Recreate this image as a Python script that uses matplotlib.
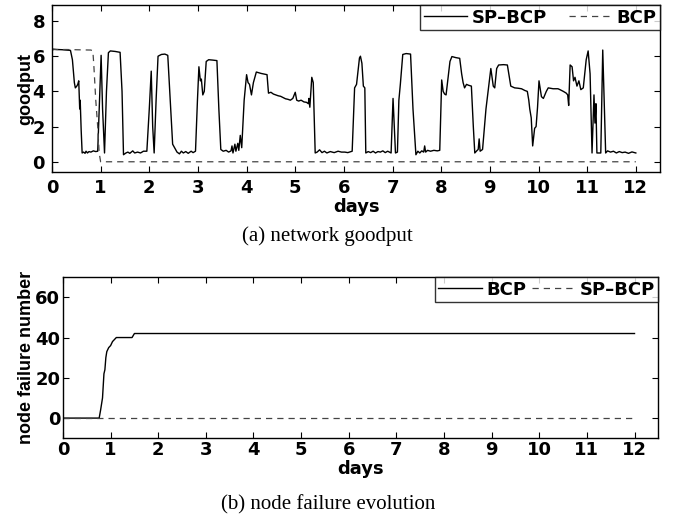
import matplotlib.pyplot as plt

plt.rcParams['font.family'] = 'DejaVu Sans'
plt.rcParams['font.weight'] = 'bold'

# %% DATA
# goodput, SP-BCP (solid)
sp_days = [0.00, 0.02, 0.10, 0.20, 0.30, 0.38, 0.42, 0.46, 0.48, 0.51, 0.53, 0.55, 0.56, 0.57, 0.58, 0.60,
           0.62, 0.65, 0.68, 0.70, 0.73, 0.76, 0.80, 0.85, 0.90, 0.94, 0.97, 1.01, 1.04, 1.08, 1.12, 1.16,
           1.20, 1.30, 1.40, 1.44, 1.47, 1.52, 1.56, 1.60, 1.66, 1.70, 1.76, 1.82, 1.88, 1.95, 2.00, 2.04,
           2.07, 2.10, 2.14, 2.18, 2.25, 2.32, 2.38, 2.43, 2.48, 2.52, 2.57, 2.62, 2.66, 2.70, 2.75, 2.80,
           2.86, 2.90, 2.95, 2.99, 3.02, 3.05, 3.07, 3.10, 3.13, 3.17, 3.22, 3.30, 3.39, 3.43, 3.47, 3.52,
           3.58, 3.63, 3.68, 3.70, 3.72, 3.76, 3.78, 3.82, 3.84, 3.87, 3.90, 3.95, 4.00, 4.03, 4.06, 4.10,
           4.14, 4.20, 4.30, 4.42, 4.45, 4.50, 4.55, 4.60, 4.65, 4.70, 4.75, 4.80, 4.85, 4.90, 4.95, 5.00,
           5.03, 5.07, 5.12, 5.18, 5.23, 5.27, 5.28, 5.30, 5.34, 5.37, 5.41, 5.45, 5.50, 5.55, 5.60, 5.65,
           5.72, 5.80, 5.88, 5.95, 6.02, 6.08, 6.15, 6.17, 6.22, 6.26, 6.32, 6.34, 6.37, 6.40, 6.43, 6.45,
           6.50, 6.55, 6.60, 6.65, 6.70, 6.75, 6.80, 6.85, 6.90, 6.97, 7.01, 7.06, 7.10, 7.13, 7.16, 7.21,
           7.28, 7.37, 7.42, 7.48, 7.52, 7.56, 7.60, 7.64, 7.66, 7.68, 7.72, 7.78, 7.85, 7.92, 7.97, 8.01,
           8.04, 8.07, 8.10, 8.18, 8.22, 8.30, 8.38, 8.42, 8.45, 8.48, 8.52, 8.56, 8.62, 8.66, 8.69, 8.74,
           8.76, 8.78, 8.80, 8.85, 8.92, 9.02, 9.07, 9.10, 9.14, 9.18, 9.28, 9.36, 9.43, 9.51, 9.58, 9.65,
           9.72, 9.77, 9.80, 9.82, 9.85, 9.88, 9.92, 9.95, 9.98, 10.01, 10.06, 10.10, 10.16, 10.20, 10.30,
           10.40, 10.44, 10.51, 10.57, 10.60, 10.62, 10.65, 10.69, 10.72, 10.75, 10.79, 10.83, 10.87, 10.92,
           10.98, 11.02, 11.06, 11.10, 11.14, 11.16, 11.18, 11.20, 11.28, 11.32, 11.38, 11.42, 11.48, 11.54,
           11.60, 11.66, 11.72, 11.78, 11.85, 11.92, 12.00]
sp_goodput = [6.25, 6.40, 6.38, 6.37, 6.35, 6.33, 5.80, 4.50, 4.20, 4.30, 4.40, 4.60, 3.80, 3.00, 3.50, 1.80,
              0.50, 0.55, 0.48, 0.60, 0.50, 0.58, 0.55, 0.62, 0.58, 0.60, 3.00, 6.05, 3.00, 0.50, 4.00, 6.20,
              6.30, 6.27, 6.22, 4.00, 0.40, 0.50, 0.55, 0.48, 0.62, 0.50, 0.55, 0.50, 0.60, 0.60, 3.00, 5.15,
              2.00, 0.50, 3.50, 6.00, 6.10, 6.12, 6.05, 3.50, 1.00, 0.80, 0.55, 0.45, 0.60, 0.50, 0.58, 0.48,
              0.60, 0.52, 0.60, 3.50, 5.40, 4.60, 4.70, 3.80, 4.00, 5.70, 5.80, 5.78, 5.75, 3.00, 0.70, 0.60,
              0.65, 0.55, 0.62, 0.90, 0.50, 1.00, 0.60, 1.05, 0.65, 1.50, 0.80, 3.50, 4.95, 4.50, 4.40, 3.80,
              4.50, 5.10, 5.02, 4.95, 3.90, 3.95, 3.85, 3.80, 3.75, 3.72, 3.65, 3.58, 3.55, 3.50, 3.60, 3.95,
              3.50, 3.45, 3.50, 3.40, 3.38, 3.30, 3.60, 3.10, 4.80, 4.50, 0.50, 0.55, 0.68, 0.52, 0.60, 0.50,
              0.58, 0.52, 0.60, 0.55, 0.55, 0.52, 0.58, 0.60, 4.20, 4.40, 5.90, 6.00, 5.60, 4.30, 4.20, 0.50,
              0.58, 0.52, 0.60, 0.50, 0.58, 0.55, 0.62, 0.52, 0.60, 0.50, 3.60, 0.50, 0.55, 3.50, 4.40, 6.10,
              6.15, 6.12, 3.00, 0.40, 0.60, 0.50, 0.62, 0.55, 0.90, 0.55, 0.65, 0.60, 0.65, 0.62, 0.65, 4.65,
              4.00, 3.85, 3.80, 5.70, 5.98, 5.92, 5.88, 5.00, 4.50, 4.20, 4.40, 4.35, 4.30, 2.00, 0.50, 0.65,
              0.70, 1.30, 0.60, 0.70, 3.00, 5.30, 4.30, 4.20, 5.30, 5.50, 5.52, 5.50, 4.30, 4.20, 4.18, 4.15,
              4.05, 4.00, 3.50, 3.00, 2.50, 0.90, 1.90, 2.00, 3.10, 4.60, 3.70, 3.60, 4.00, 4.20, 4.15,
              4.15, 4.10, 4.00, 3.90, 3.80, 3.20, 5.50, 5.40, 4.60, 4.80, 4.30, 4.60, 4.10, 4.20,
              5.80, 6.30, 5.00, 0.50, 3.80, 2.20, 3.30, 0.50, 0.50, 6.35, 0.50, 0.62, 0.55, 0.60,
              0.50, 0.58, 0.52, 0.55, 0.48, 0.56, 0.50]

# goodput, BCP (dashed)
bcp_days = [0.0, 0.3, 0.6, 0.80, 0.84, 0.86, 0.90, 0.94, 0.97, 1.0, 12.0]
bcp_goodput = [6.38, 6.38, 6.36, 6.35, 6.30, 5.50, 3.50, 2.00, 0.50, 0.0, 0.0]

# node failure number
fail_days = [0.0, 0.76, 0.79, 0.83, 0.86, 0.88, 0.90, 0.92, 0.96, 1.0, 1.04, 1.08, 1.12, 1.45, 1.50, 12.0]
bcp_fail = [0, 0, 4, 10, 22, 24, 30, 33, 35, 36, 38, 39, 40, 40, 42, 42]
sp_fail_days = [0.0, 12.0]
sp_fail = [0, 0]

day_ticks = list(range(0, 13))

# %% FIGURE
fig = plt.figure(figsize=(6.75, 5.18), dpi=100)

def style(ax, pad):
    ax.tick_params(direction='in', top=True, right=True, length=4, width=0.8, labelsize=13, pad=pad)
    for s in ax.spines.values():
        s.set_linewidth(1.0)
    ax.set_xticks(day_ticks)
    ax.set_xlim(0, 12.5)
    ax.set_xlabel('days', fontsize=13, fontweight='bold', labelpad=0.5)
#

dash = (0, (5, 4))
leg_kw = dict(loc='upper right', ncol=2, fontsize=13, frameon=True, fancybox=False,
              edgecolor='black', borderaxespad=0, handlelength=2.4, handletextpad=0.25,
              borderpad=0.2)

# (a) goodput
ax1 = fig.add_axes([0.077, 0.668, 0.901, 0.322])
ax1.plot(sp_days, sp_goodput, color='black', lw=1.0, label='SP\u2013BCP')
ax1.plot(bcp_days, bcp_goodput, color='#444444', lw=0.9, ls=dash, label='BCP')
ax1.set_ylim(-0.58, 8.9)
ax1.set_yticks([0, 2, 4, 6, 8])
ax1.set_ylabel('goodput', fontsize=13, fontweight='bold', family='Liberation Sans', labelpad=-1)
style(ax1, 5)
leg1 = ax1.legend(columnspacing=1.2, **leg_kw)
leg1.get_frame().set_linewidth(1.0)

# (b) node failure
ax2 = fig.add_axes([0.0933, 0.154, 0.882, 0.311])
ax2.plot(fail_days, bcp_fail, color='black', lw=1.0, label='BCP')
ax2.plot(sp_fail_days, sp_fail, color='#444444', lw=0.9, ls=dash, label='SP\u2013BCP')
ax2.set_ylim(-10, 70)
ax2.set_yticks([0, 20, 40, 60])
ax2.set_ylabel('node failure number', fontsize=13, fontweight='bold', family='Liberation Sans', labelpad=0)
style(ax2, 2)
leg2 = ax2.legend(columnspacing=0.3, **leg_kw)
leg2.get_frame().set_linewidth(1.0)

# captions
fig.text(0.485, 0.544, '(a) network goodput', ha='center', va='center',
         family='Liberation Serif', fontweight='normal', fontsize=15)
fig.text(0.486, 0.025, '(b) node failure evolution', ha='center', va='center',
         family='Liberation Serif', fontweight='normal', fontsize=15)

fig.savefig('out.png', dpi=100)
